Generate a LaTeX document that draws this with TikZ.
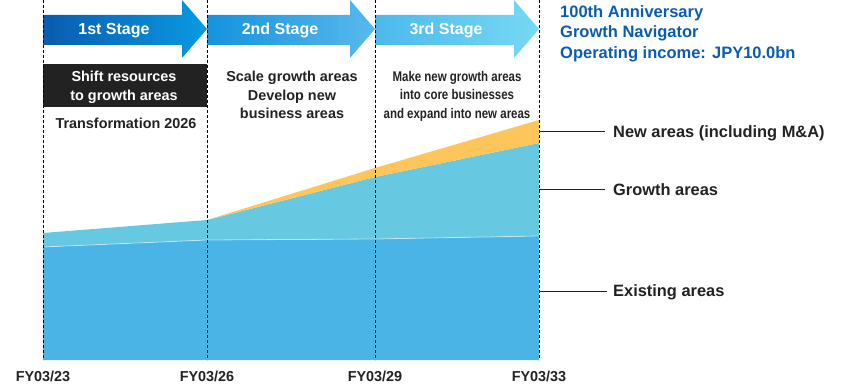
\documentclass[tikz,border=0pt]{standalone}
\usepackage{fontspec}
\setmainfont{Liberation Sans}
\newfontfamily\narrowfont[FakeStretch=0.82]{Liberation Sans}
\definecolor{txt}{HTML}{222222}
\definecolor{navy}{HTML}{0A5CB2}
\definecolor{aoneL}{HTML}{0A5BAF}
\definecolor{aoneR}{HTML}{0A9AE2}
\definecolor{atwoL}{HTML}{1593DD}
\definecolor{atwoR}{HTML}{58B9EC}
\definecolor{athrL}{HTML}{4CB9EC}
\definecolor{athrR}{HTML}{76D9F4}
\definecolor{existcol}{HTML}{4AB4E6}
\definecolor{growcol}{HTML}{66C9E1}
\definecolor{newcol}{HTML}{FDC55A}
\begin{document}
\begin{tikzpicture}[x=1pt,y=-1pt,
  lbl/.style={font=\fontsize{14.4}{18.3}\selectfont\bfseries, text=txt, inner sep=0pt, anchor=base},
  stagetxt/.style={font=\fontsize{16}{19}\selectfont\bfseries, text=white, inner sep=0pt, anchor=base},
  bluetxt/.style={font=\fontsize{16.5}{19}\selectfont\bfseries, text=navy, inner sep=0pt, anchor=base west},
  sidelbl/.style={font=\fontsize{16.4}{19}\selectfont\bfseries, text=txt, inner sep=0pt, anchor=base west},
  narrowtxt/.style={font=\fontsize{14}{18.4}\narrowfont\bfseries, text=txt, inner sep=0pt, anchor=base},
  guide/.style={draw=black, line width=0.7pt, dash pattern=on 3pt off 2pt},
  leader/.style={draw=txt, line width=0.8pt}]
\useasboundingbox (0,0) rectangle (850,385);

% area chart
\fill[existcol] (43,360) -- (43,247) -- (207,240) -- (375,239) -- (539,236) -- (539,360) -- cycle;
\fill[growcol] (43,247) -- (43,233) -- (207,220) -- (375,177) -- (539,143) -- (539,236) -- (375,239) -- (207,240) -- cycle;
\fill[newcol] (207,220) -- (375,168) -- (539,120) -- (539,143) -- (375,177) -- cycle;
\draw[white, opacity=0.5, line width=0.8pt] (43,247) -- (207,240) -- (375,239) -- (539,236);

% stage arrows
\shade[left color=aoneL, right color=aoneR] (43,15) -- (182,15) -- (182,0) -- (207,29) -- (182,58) -- (182,45) -- (43,45) -- cycle;
\shade[left color=atwoL, right color=atwoR] (207,15) -- (350,15) -- (350,0) -- (375,29) -- (350,58) -- (350,45) -- (207,45) -- cycle;
\shade[left color=athrL, right color=athrR] (375,15) -- (514,15) -- (514,0) -- (539,29) -- (514,58) -- (514,45) -- (375,45) -- cycle;
\node[stagetxt] (s1) at (114,35) {1st Stage};
\node[stagetxt] (s2) at (280,35) {2nd Stage};
\node[stagetxt] (s3) at (446,35) {3rd Stage};

% black box
\fill[txt] (43,64) rectangle (207,107);
\node[lbl, text=white, align=center] (b1) at (124,100) {Shift resources\\to growth areas};
\node[lbl] (t1) at (126,128.3) {Transformation 2026};

\node[lbl, align=center] (b2) at (292,118.3) {Scale growth areas\\Develop new\\business areas};
\node[narrowtxt, align=center] (b3) at (457,118) {Make new growth areas\\into core businesses\\and expand into new areas};

% top-right text
\node[bluetxt] (h1) at (560,17.5) {100th Anniversary};
\node[bluetxt] (h2) at (560,38) {Growth Navigator};
\node[bluetxt] (h3) at (560,58.3) {Operating income: JPY10.0bn};

% dashed guides
\coordinate (g1t) at (43,0);   \coordinate (g1b) at (43,360);
\coordinate (g2t) at (207,0);  \coordinate (g2b) at (207,360);
\coordinate (g3t) at (375,0);  \coordinate (g3b) at (375,360);
\coordinate (g4t) at (539,0);  \coordinate (g4b) at (539,360);
\draw[guide] (g1t) -- (g1b);
\draw[guide] (g2t) -- (g2b);
\draw[guide] (g3t) -- (g3b);
\draw[guide] (g4t) -- (g4b);

% side labels
\node[sidelbl] (ln) at (613,137) {New areas (including M\&A)};
\node[sidelbl] (lg) at (613,195) {Growth areas};
\node[sidelbl] (le) at (613,296.7) {Existing areas};
\coordinate (cn) at (539,131);
\coordinate (cg) at (539,189);
\coordinate (ce) at (539,291);
\draw[leader] (cn) -- (605,131);
\draw[leader] (cg) -- (605,189);
\draw[leader] (ce) -- (607,291);

% x labels
\node[lbl] (x1) at (43,381) {FY03/23};
\node[lbl] (x2) at (207,381) {FY03/26};
\node[lbl] (x3) at (375,381) {FY03/29};
\node[lbl] (x4) at (539,381) {FY03/33};
\end{tikzpicture}
\end{document}
